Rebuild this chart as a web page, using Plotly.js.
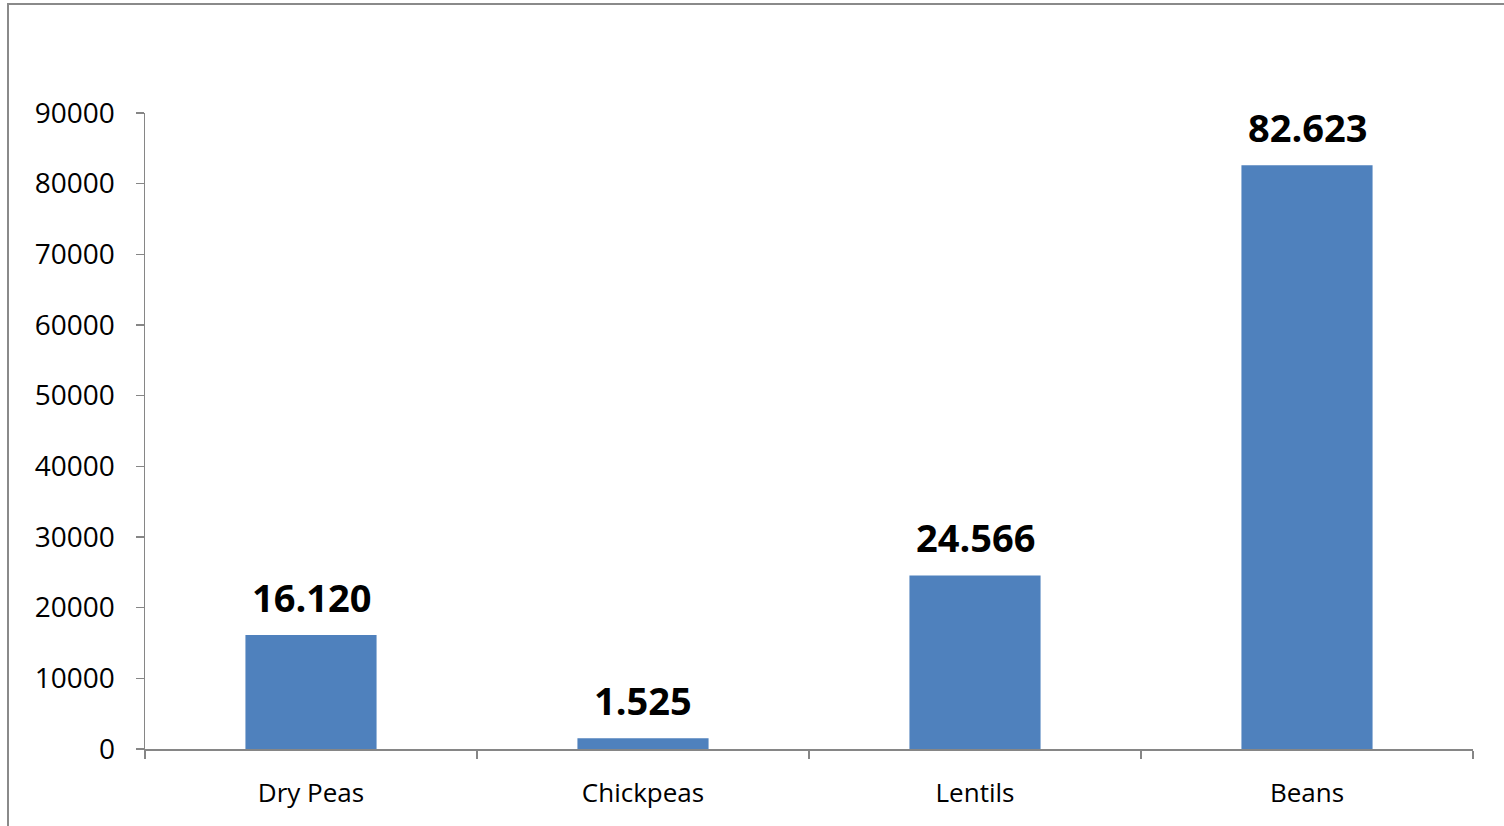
<!DOCTYPE html>
<html>
<head>
<meta charset="utf-8">
<script src="https://cdn.plot.ly/plotly-3.0.1.min.js"></script>
<style>
  html, body { margin: 0; padding: 0; background: #fff; overflow: hidden; }
  #wrap { position: relative; width: 1504px; height: 826px; }
  #chart { position: absolute; left: 0; top: 0; width: 1504px; height: 826px; }
  #frame { position: absolute; left: 7px; top: 3px; width: 1600px; height: 900px;
           border-left: 2px solid #8a8a8a; border-top: 2px solid #8a8a8a; pointer-events: none; }
</style>
</head>
<body>
<div id="wrap">
  <div id="chart"></div>
  <div id="frame"></div>
</div>
<script>
const categories = ["Dry Peas", "Chickpeas", "Lentils", "Beans"];
const values = [16120, 1525, 24566, 82623];
const yTickValues = [0, 10000, 20000, 30000, 40000, 50000, 60000, 70000, 80000, 90000];

function fmtDot(n) {
  return String(Math.round(n)).replace(/\B(?=(\d{3})+(?!\d))/g, ".");
}

const FONT = "Open Sans, Noto Sans, sans-serif";
const AXIS = "#868686";

const trace = {
  type: "bar",
  x: categories,
  y: values,
  width: 0.395,
  marker: { color: "#4F81BD", line: { width: 0 } },
  hoverinfo: "skip"
};

const annotations = categories.map((c, i) => ({
  x: c, y: values[i], xref: "x", yref: "y",
  text: "<b>" + fmtDot(values[i]) + "</b>",
  showarrow: false, yanchor: "bottom", yshift: 10,
  font: { family: FONT, size: 38, color: "#000" }
}));

const layout = {
  width: 1504, height: 826,
  margin: { l: 145, r: 31, t: 113, b: 77, pad: 0 },
  paper_bgcolor: "#fff", plot_bgcolor: "#fff",
  showlegend: false,
  xaxis: {
    type: "category",
    range: [-0.5, 3.5],
    showgrid: false, zeroline: false,
    showline: true, linecolor: AXIS, linewidth: 1.5,
    ticks: "outside", tickson: "boundaries", ticklen: 8, tickwidth: 1.5, tickcolor: AXIS,
    tickfont: { family: FONT, size: 26, color: "#000" },
    ticklabelstandoff: 20,
    fixedrange: true
  },
  yaxis: {
    range: [0, 90000],
    tickvals: yTickValues,
    tickformat: "d",
    showgrid: false, zeroline: false,
    showline: true, linecolor: AXIS, linewidth: 1.5,
    ticks: "outside", ticklen: 8, tickwidth: 1.5, tickcolor: AXIS,
    tickfont: { family: FONT, size: 28, color: "#000" },
    ticklabelstandoff: 15,
    fixedrange: true
  },
  annotations: annotations
};

Plotly.newPlot("chart", [trace], layout, { displayModeBar: false, staticPlot: true });
</script>
</body>
</html>
